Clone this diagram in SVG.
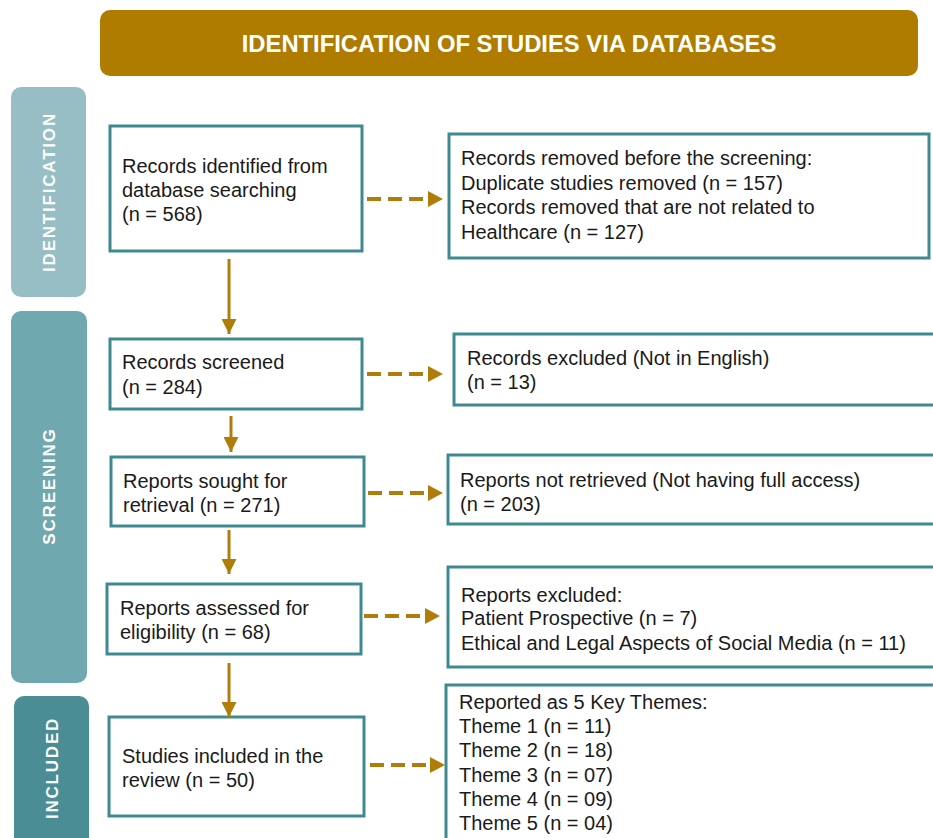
<svg xmlns="http://www.w3.org/2000/svg" width="933" height="838" viewBox="0 0 933 838">
<defs>
<style>
.box{fill:#fff;stroke:#3E8A90;stroke-width:3}
.t{font-family:"Liberation Sans",Arial,sans-serif;font-size:20px;fill:#1a1a1a}
.side{font-family:"Liberation Sans",Arial,sans-serif;font-size:17px;font-weight:bold;fill:#fff;letter-spacing:1.8px;text-anchor:middle}
.solid{stroke:#B07D0A;stroke-width:3;fill:none}
.dash{stroke:#B07D0A;stroke-width:4;fill:none;stroke-dasharray:14 7}
</style>
<marker id="ah" viewBox="0 0 10 10" refX="10" refY="5" markerWidth="15" markerHeight="15" markerUnits="userSpaceOnUse" orient="auto">
<path d="M0,0 L10,5 L0,10 Z" fill="#B07D0A"/>
</marker>
</defs>
<rect width="933" height="838" fill="#fff"/>

<g id="header">
<rect x="100" y="10" width="818" height="66" rx="10" fill="#B07C00"/>
<text x="509" y="52" font-family="'Liberation Sans',Arial,sans-serif" font-size="23.8" font-weight="bold" fill="#fff" text-anchor="middle">IDENTIFICATION OF STUDIES VIA DATABASES</text>
</g>

<g id="stage-identification">
<rect x="11" y="87" width="75" height="210" rx="10" fill="#97BEC4"/>
<text class="side" transform="translate(55,192) rotate(-90)">IDENTIFICATION</text>
</g>
<g id="stage-screening">
<rect x="11" y="311" width="76" height="372" rx="10" fill="#70A8AF"/>
<text class="side" transform="translate(55,486) rotate(-90)">SCREENING</text>
</g>
<g id="stage-included">
<rect x="14" y="696" width="75" height="160" rx="10" fill="#4A8D94"/>
<text class="side" transform="translate(58,768) rotate(-90)">INCLUDED</text>
</g>

<g id="n1">
<rect class="box" x="110" y="126" width="252" height="125"/>
<text class="t" x="122" y="173">Records identified from</text>
<text class="t" x="122" y="197">database searching</text>
<text class="t" x="122" y="221">(n = 568)</text>
</g>
<g id="n2">
<rect class="box" x="449" y="134" width="480" height="124"/>
<text class="t" x="461" y="165">Records removed before the screening:</text>
<text class="t" x="461" y="190">Duplicate studies removed  (n = 157)</text>
<text class="t" x="461" y="214">Records removed that are not related to</text>
<text class="t" x="461" y="239">Healthcare (n = 127)</text>
</g>
<g id="n3">
<rect class="box" x="110" y="339" width="252" height="70"/>
<text class="t" x="122" y="369">Records screened</text>
<text class="t" x="122" y="394">(n = 284)</text>
</g>
<g id="n4">
<rect class="box" x="454" y="334" width="482" height="71"/>
<text class="t" x="467" y="365">Records excluded (Not in English)</text>
<text class="t" x="467" y="389">(n = 13)</text>
</g>
<g id="n5">
<rect class="box" x="111" y="457" width="253" height="69"/>
<text class="t" x="123" y="488">Reports sought for</text>
<text class="t" x="123" y="512">retrieval (n = 271)</text>
</g>
<g id="n6">
<rect class="box" x="448" y="455" width="488" height="69"/>
<text class="t" x="460" y="487">Reports not retrieved (Not having full access)</text>
<text class="t" x="460" y="511">(n = 203)</text>
</g>
<g id="n7">
<rect class="box" x="107" y="584" width="254" height="70"/>
<text class="t" x="120" y="615">Reports assessed for</text>
<text class="t" x="120" y="639">eligibility (n = 68)</text>
</g>
<g id="n8">
<rect class="box" x="448" y="567" width="488" height="100"/>
<text class="t" x="461" y="602">Reports excluded:</text>
<text class="t" x="461" y="625">Patient Prospective (n = 7)</text>
<text class="t" x="461" y="650">Ethical and Legal Aspects of Social Media (n = 11)</text>
</g>
<g id="n9">
<rect class="box" x="109" y="717" width="255" height="99"/>
<text class="t" x="122" y="763">Studies included in the</text>
<text class="t" x="122" y="787">review (n = 50)</text>
</g>
<g id="n10">
<rect class="box" x="446" y="685" width="490" height="170"/>
<text class="t" x="459" y="709">Reported as 5 Key Themes:</text>
<text class="t" x="459" y="733">Theme 1 (n = 11)</text>
<text class="t" x="459" y="757">Theme 2 (n = 18)</text>
<text class="t" x="459" y="782">Theme 3 (n = 07)</text>
<text class="t" x="459" y="806">Theme 4 (n = 09)</text>
<text class="t" x="459" y="830">Theme 5 (n = 04)</text>
</g>

<g id="connectors">
<line class="solid" x1="229" y1="259" x2="229" y2="334" marker-end="url(#ah)"/>
<line class="solid" x1="231" y1="416" x2="231" y2="452" marker-end="url(#ah)"/>
<line class="solid" x1="229" y1="530" x2="229" y2="574" marker-end="url(#ah)"/>
<line class="solid" x1="229" y1="663" x2="229" y2="717" marker-end="url(#ah)"/>
<line class="dash" x1="367" y1="199" x2="429" y2="199"/>
<path d="M428,191 L443,199 L428,207 Z" fill="#B07D0A"/>
<line class="dash" x1="367" y1="374" x2="429" y2="374"/>
<path d="M428,366 L443,374 L428,382 Z" fill="#B07D0A"/>
<line class="dash" x1="368" y1="493" x2="429" y2="493"/>
<path d="M428,485 L443,493 L428,501 Z" fill="#B07D0A"/>
<line class="dash" x1="364" y1="616" x2="426" y2="616"/>
<path d="M425,608 L440,616 L425,624 Z" fill="#B07D0A"/>
<line class="dash" x1="370" y1="765" x2="431" y2="765"/>
<path d="M430,757 L445,765 L430,773 Z" fill="#B07D0A"/>
</g>
</svg>
